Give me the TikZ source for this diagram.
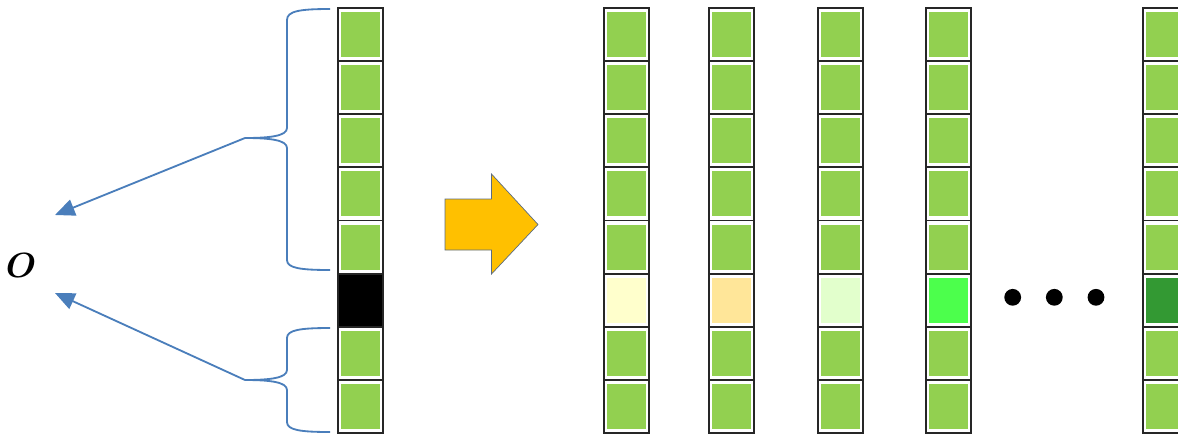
\documentclass[tikz,border=0pt]{standalone}
\usepackage{tikz}
\usetikzlibrary{arrows.meta,positioning,calc}
\definecolor{cgreen}{HTML}{92D050}
\definecolor{cblue}{HTML}{4A7EBB}
\definecolor{camber}{HTML}{FFC000}
\definecolor{cedge}{HTML}{5B6B82}
\definecolor{cyel}{HTML}{FFFFCC}
\definecolor{corange}{HTML}{FFE699}
\definecolor{cmint}{HTML}{E2FFCC}
\definecolor{clime}{HTML}{4CFF4C}
\definecolor{cdark}{HTML}{339933}
\tikzset{
  cell/.style={draw=black!85,fill=white,line width=1.3pt,minimum width=1.125cm,minimum height=1.328cm,inner sep=0pt,outer sep=0pt},
  core/.style={minimum width=0.975cm,minimum height=1.125cm,inner sep=0pt,outer sep=0pt},
  brc/.style={draw=cblue,line width=1.3pt},
  barr/.style={-{Triangle[length=14pt,width=12pt]},draw=cblue,fill=cblue,line width=1.3pt},
  dot/.style={circle,fill=black,minimum size=0.42cm,inner sep=0pt},
}
\begin{document}
\begin{tikzpicture}[x=0.025cm,y=-0.025cm]
  \useasboundingbox (0,0) rectangle (1178,436);
  % linke Spalte
  \foreach \r in {0,...,7} {
    \node[cell] (a\r) at (360.5,{8+53.125*(\r+0.5)}) {};
    \ifnum\r=5
      \node[cell,fill=black] at (a\r) {};
    \else
      \node[core,fill=cgreen] at (a\r) {};
    \fi
  }
  % rechte Spalten
  \foreach \c/\x/\col in {1/626.5/cyel,2/731.5/corange,3/840.5/cmint,4/948.5/clime,5/1165.5/cdark} {
    \foreach \r in {0,...,7} {
      \node[cell] (s\c-\r) at (\x,{8+53.125*(\r+0.5)}) {};
      \ifnum\r=5
        \node[core,fill=\col] at (s\c-\r) {};
      \else
        \node[core,fill=cgreen] at (s\c-\r) {};
      \fi
    }
  }
  % Klammern
  \draw[brc] (330,9) .. controls (300,9) and (287,11) .. (287,20) -- (287,128)
    .. controls (287,136) and (270,138) .. (245,138)
    .. controls (270,138) and (287,140) .. (287,148) -- (287,260)
    .. controls (287,268) and (300,270) .. (330,270);
  \draw[brc] (330,328) .. controls (300,328) and (287,330) .. (287,338) -- (287,370)
    .. controls (287,378) and (270,380) .. (245,380)
    .. controls (270,380) and (287,382) .. (287,390) -- (287,422)
    .. controls (287,430) and (300,432) .. (330,432);
  \coordinate (tipA) at (245,138);
  \coordinate (tipB) at (245,380);
  \coordinate (endA) at (55,215);
  \coordinate (endB) at (55,293);
  \node[font=\fontsize{26}{30}\selectfont\boldmath] (o) at (21,265) {$O$};
  \draw[barr] (tipA) -- (endA);
  \draw[barr] (tipB) -- (endB);
  % Pfeil
  \filldraw[fill=camber,draw=cedge,line width=0.5pt] (445,199) -- (491.5,199) -- (491.5,174)
    -- (538,224.5) -- (491.5,274) -- (491.5,250) -- (445,250) -- cycle;
  % Punkte
  \foreach \x [count=\i] in {1012.7,1054.3,1096} { \node[dot] (p\i) at (\x,297.3) {}; }
\end{tikzpicture}
\end{document}
